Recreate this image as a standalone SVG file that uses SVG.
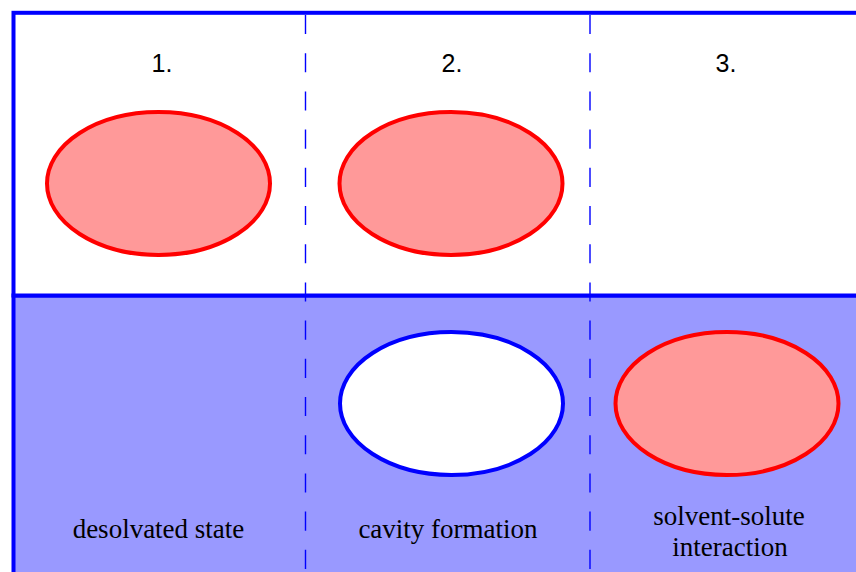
<svg xmlns="http://www.w3.org/2000/svg" width="856" height="572" viewBox="0 0 856 572">
<style>
.num{font-family:"Liberation Sans",Arial,sans-serif;font-size:25px;fill:#000;text-anchor:middle}
.lbl{font-family:"Liberation Serif","Times New Roman",serif;font-size:27px;fill:#000;text-anchor:middle}
.solute{fill:#ff9999;stroke:#ff0000;stroke-width:4}
.cavity{fill:#ffffff;stroke:#0000ff;stroke-width:4}
.div{stroke:#0000ff;stroke-width:1.4;stroke-dasharray:19.1 19.1;fill:none}
</style>
<rect x="0" y="0" width="856" height="572" fill="#ffffff"/>
<g id="frame">
<rect x="13.5" y="295.5" width="850" height="290" fill="#9999ff" stroke="#0000ff" stroke-width="4"/>
<rect x="13.5" y="12.8" width="850" height="282.7" fill="#ffffff" stroke="#0000ff" stroke-width="4"/>
</g>
<g id="connectors">
<line class="div" x1="305.5" y1="15" x2="305.5" y2="572"/>
<line class="div" x1="590" y1="15" x2="590" y2="572"/>
</g>
<g id="step1">
<text class="num" x="162" y="72">1.</text>
<ellipse class="solute" cx="158.5" cy="183.5" rx="111.5" ry="71.5"/>
<text class="lbl" x="158.5" y="538">desolvated state</text>
</g>
<g id="step2">
<text class="num" x="452" y="72">2.</text>
<ellipse class="solute" cx="451" cy="183.5" rx="111.5" ry="71.5"/>
<ellipse class="cavity" cx="451.5" cy="403.5" rx="111.5" ry="71.5"/>
<text class="lbl" x="448" y="538">cavity formation</text>
</g>
<g id="step3">
<text class="num" x="726" y="72">3.</text>
<ellipse class="solute" cx="727" cy="403.5" rx="111.5" ry="71.5"/>
<text class="lbl" x="729" y="524.5">solvent-solute</text>
<text class="lbl" x="730" y="556">interaction</text>
</g>
</svg>
